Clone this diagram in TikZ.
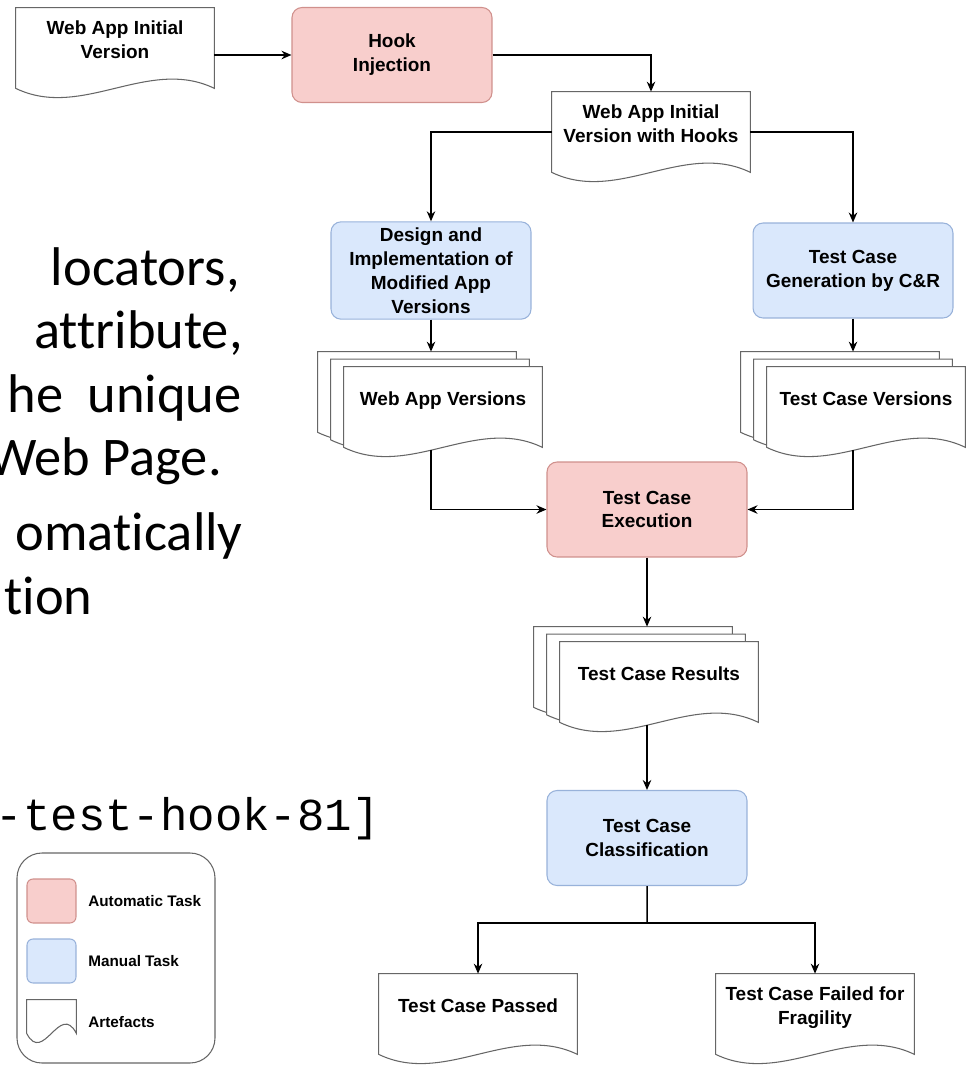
\documentclass[tikz,border=0pt]{standalone}
\usepackage{fontspec}
\setmainfont{Liberation Sans}
\newfontfamily\slidefont[Ligatures={NoCommon,NoRare}]{Carlito}
\newfontfamily\codefont{Liberation Mono}
\usetikzlibrary{arrows.meta,calc,backgrounds}

\definecolor{autofill}{HTML}{F8CECC}
\definecolor{autoline}{HTML}{D0908C}
\definecolor{manfill}{HTML}{DAE8FC}
\definecolor{manline}{HTML}{98B2DA}
\definecolor{docline}{HTML}{666666}

% artefact outline with wavy bottom, #2 #3 shift it for the stacked copies
\newcommand{\artefact}[3]{%
  \path[docshape] ([shift={(#2,#3)}]#1.north west) -- ([shift={(#2,#3)}]#1.north east)
    -- ([shift={(#2,#3)}]#1.south east)
    .. controls ($(#1.south east)!0.333!(#1.south west)+(#2,#3-32)$)
    and ($(#1.south east)!0.667!(#1.south west)+(#2,#3+32)$)
    .. ([shift={(#2,#3)}]#1.south west) -- cycle;}

\begin{document}
\begin{tikzpicture}[x=0.02cm,y=-0.02cm]
  \tikzstyle{task}=[rectangle,rounded corners=0.2cm,minimum width=4cm,minimum height=1.9cm,align=center,line width=0.6pt,font=\bfseries\fontsize{10.8}{13.6}\selectfont]
  \tikzstyle{autotask}=[task,draw=autoline,fill=autofill]
  \tikzstyle{mantask}=[task,draw=manline,fill=manfill]
  \tikzstyle{artefact}=[rectangle,minimum width=3.96cm,minimum height=1.6cm,align=center,text depth=10pt,font=\bfseries\fontsize{10.8}{13.6}\selectfont]
  \tikzstyle{docshape}=[draw=docline,fill=white,line width=0.6pt]
  \tikzstyle{edge}=[draw,line width=0.85pt,-{Stealth[length=0.2cm,width=0.17cm]}]
  \tikzstyle{slide}=[anchor=base east,inner sep=0pt,font=\slidefont\fontsize{31}{31}\selectfont]
  \tikzstyle{leglabel}=[anchor=west,inner sep=0pt,font=\bfseries\fontsize{8.7}{10}\selectfont]

  \useasboundingbox (0,0) rectangle (969,1065);

  % slide text behind the chart
  \node[slide] (line1) at (240,285) {locators,};
  \node[slide] (line2) at (243,348) {attribute,};
  \node[slide] (line3) at (242,412) {he\hspace{0.44em}unique};
  \node[slide] (line4) at (222,475) {Web Page.};
  \node[slide] (line5) at (243,550) {omatically};
  \node[slide] (line6) at (93,614) {tion};
  \node[anchor=base east,inner sep=0pt,font=\codefont\fontsize{26}{26}\selectfont] (hookid) at (380,830) {-test-hook-81]};

  % tasks
  \node[autotask] (hook) at (392,55) {Hook\\Injection};
  \node[mantask] (design) at (431,270.5) {Design and\\Implementation of\\Modified App\\Versions};
  \node[mantask] (tcgen) at (853,270.5) {Test Case\\Generation by C\&R};
  \node[autotask] (exec) at (647,509.5) {Test Case\\Execution};
  \node[mantask] (classif) at (647,838) {Test Case\\Classification};

  % artefacts
  \node[artefact] (initver) at (115,48) {Web App Initial\\Version};
  \node[artefact] (hookver) at (651,132) {Web App Initial\\Version with Hooks};
  \node[artefact] (appver) at (443,407) {Web App Versions};
  \node[artefact] (tcver) at (866,407) {Test Case Versions};
  \node[artefact] (results) at (659,682) {Test Case Results};
  \node[artefact] (passed) at (478,1014) {Test Case Passed};
  \node[artefact] (failed) at (815,1014) {Test Case Failed for\\Fragility};

  % legend
  \path[draw=docline,line width=0.6pt,rounded corners=0.5cm] (17,853) rectangle (215,1063);
  \node[autotask,minimum width=0.98cm,minimum height=0.88cm,rounded corners=0.12cm] (legauto) at (51.5,901) {};
  \node[mantask,minimum width=0.98cm,minimum height=0.88cm,rounded corners=0.12cm] (legman) at (51.5,961) {};
  \node[artefact,minimum width=0.98cm,minimum height=0.66cm] (legdoc) at (51.5,1016.5) {};
  \node[leglabel] (labauto) at (88,901) {Automatic Task};
  \node[leglabel] (labman) at (88,961) {Manual Task};
  \node[leglabel] (labdoc) at (88,1022) {Artefacts};

  \begin{pgfonlayer}{background}
    \artefact{initver}{0}{0}
    \artefact{hookver}{0}{0}
    \foreach \n in {appver,tcver,results}{
      \artefact{\n}{-26}{-15}
      \artefact{\n}{-13}{-7.5}
      \artefact{\n}{0}{0}
    }
    \artefact{passed}{0}{0}
    \artefact{failed}{0}{0}
    \artefact{legdoc}{0}{0}
  \end{pgfonlayer}

  \path[edge] (initver.east |- hook.west) -- (hook.west);
  \path[edge] (hook.east) -| (hookver.north);
  \path[edge] (hookver.west) -| (design.north);
  \path[edge] (hookver.east) -| (tcgen.north);
  \path[edge] (design.south) -- ([yshift=0.3cm]design.south |- appver.north);
  \path[edge] (tcgen.south) -- ([yshift=0.3cm]tcgen.south |- tcver.north);
  \path[edge] ([yshift=-0.06cm]design.south |- appver.south) |- (exec.west);
  \path[edge] ([yshift=-0.06cm]tcgen.south |- tcver.south) |- (exec.east);
  \path[edge] (exec.south) -- ([yshift=0.3cm]exec.south |- results.north);
  \path[edge] ([yshift=-0.06cm]exec.south |- results.south) -- (classif.north);
  \coordinate (split) at ($(classif.south)!0.42!(classif.south |- passed.north)$);
  \path[draw,line width=0.85pt] (classif.south) -- (split);
  \path[edge] (split) -| (passed.north);
  \path[edge] (split) -| (failed.north);
\end{tikzpicture}
\end{document}
